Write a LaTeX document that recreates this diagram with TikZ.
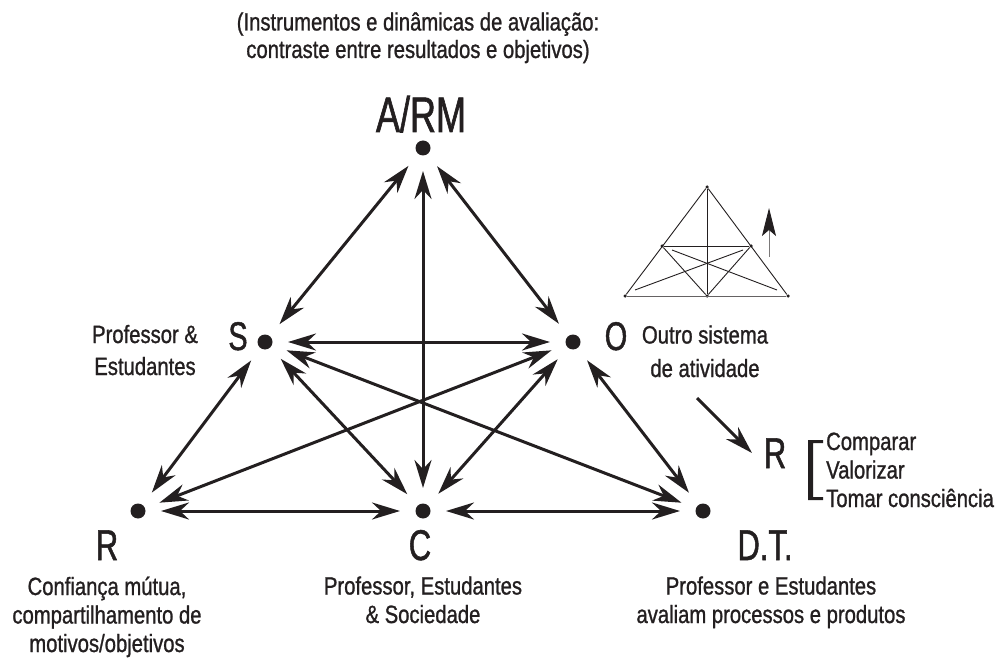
\documentclass[tikz,border=0pt]{standalone}
\usepackage{fontspec}
\setmainfont{Liberation Sans}
\newfontfamily\smallf[FakeStretch=0.81,FakeBold=1]{Liberation Sans}
\newfontfamily\bigf[FakeStretch=0.72,FakeBold=1.2]{Liberation Sans}
\usetikzlibrary{arrows.meta}
\definecolor{ink}{HTML}{231F20}
\begin{document}
\begin{tikzpicture}[x=1pt,y=-1pt,
  dot/.style={circle,fill=ink,minimum size=15pt,inner sep=0pt,outer sep=15.5pt},
  link/.style={line width=3pt,draw=ink,{Stealth[length=28pt,width=17pt,inset=9pt]}-{Stealth[length=28pt,width=17pt,inset=9pt]}},
  oneway/.style={line width=3pt,draw=ink,-{Stealth[length=28pt,width=17pt,inset=9pt]}},
  txt/.style={font=\smallf\fontsize{25}{29.5}\selectfont,text=ink,align=center,inner sep=0pt,anchor=base},
  big/.style={font=\bigf\fontsize{43}{43}\selectfont,text=ink,inner sep=0pt,anchor=base},
  mini/.style={circle,fill=ink,minimum size=3.5pt,inner sep=0pt},
  thin/.style={line width=0.9pt,draw=ink}]
\useasboundingbox (0,0) rectangle (999,663);

% main nodes
\node[dot] (A) at (423,148) {};
\node[dot] (S) at (265,342) {};
\node[dot] (O) at (573,342) {};
\node[dot] (R) at (138,511) {};
\node[dot] (C) at (423,511) {};
\node[dot] (D) at (703,511) {};

% labels (base anchor = baseline of last line)
\node[txt,font=\smallf\fontsize{25}{27.5}\selectfont] (top) at (418,58) {(Instrumentos e dinâmicas de avaliação:\\contraste entre resultados e objetivos)};
\node[big,font=\bigf\fontsize{50}{50}\selectfont] (Alab) at (421,132) {A/RM};
\node[big,font=\bigf\fontsize{40}{40}\selectfont] (Slab) at (238,350) {S};
\node[big,font=\bigf\fontsize{40}{40}\selectfont] (Olab) at (616,350) {O};
\node[big] (Rlab) at (107,560) {R};
\node[big] (Clab) at (420,560) {C};
\node[big] (Dlab) at (765,560) {D.T.};
\node[txt,font=\smallf\fontsize{25}{32}\selectfont] (Stxt) at (145,375) {Professor \&\\Estudantes};
\node[txt,font=\smallf\fontsize{25}{33.5}\selectfont] (Otxt) at (705,377) {Outro sistema\\de atividade};
\node[txt,font=\smallf\fontsize{25}{28.5}\selectfont] (Rtxt) at (107,652) {Confiança mútua,\\compartilhamento de\\motivos/objetivos};
\node[txt,font=\smallf\fontsize{25}{28.5}\selectfont] (Ctxt) at (423,623) {Professor, Estudantes\\\& Sociedade};
\node[txt,font=\smallf\fontsize{25}{28.5}\selectfont] (Dtxt) at (771,623) {Professor e Estudantes\\avaliam processos e produtos};

% connectors
\draw[link] (A) -- (S);
\draw[link] (A) -- (O);
\draw[link] (A) -- (C);
\draw[link] (S) -- (O);
\draw[link] (S) -- (R);
\draw[link] (S) -- (C);
\draw[link] (S) -- (D);
\draw[link] (O) -- (R);
\draw[link] (O) -- (C);
\draw[link] (O) -- (D);
\draw[link] (R) -- (C);
\draw[link] (C) -- (D);

% right side: R with list
\coordinate (rstart) at (697,398);
\coordinate (rend) at (752,453);
\draw[oneway] (rstart) -- (rend);
\node[big] (R2) at (775,468) {R};
\fill[ink] (808,440) -- (823,440) -- (823,443) -- (813,443) -- (813,497) -- (823,497) -- (823,500) -- (808,500) -- cycle;
\node[txt,align=left,anchor=base west,font=\smallf\fontsize{25}{28.5}\selectfont] (list) at (826,507) {Comparar\\Valorizar\\Tomar consciência};

% small icon
\node[mini] (t) at (707,187) {};
\node[mini] (ml) at (662,246) {};
\node[mini] (mr) at (751,246) {};
\node[mini] (bl) at (625,296) {};
\node[mini] (bm) at (707,296) {};
\node[mini] (br) at (788,296) {};
\coordinate (x1) at (672,250);
\coordinate (x2) at (777,290);
\coordinate (x3) at (743,250);
\coordinate (x4) at (635,290);
\draw[thin] (t) -- (bl);
\draw[thin] (t) -- (br);
\draw[thin,draw=ink!70] (bl) -- (br);
\draw[thin] (t) -- (bm);
\draw[thin] (ml) -- (mr);
\draw[thin] (ml) -- (bm);
\draw[thin] (mr) -- (bm);
\draw[thin] (x1) -- (x2);
\draw[thin] (x3) -- (x4);
\coordinate (ua) at (769,257);
\coordinate (ub) at (769,208);
\draw[line width=0.9pt,draw=ink!60,-{Stealth[length=28pt,width=14pt,inset=6pt,color=ink]}] (ua) -- (ub);
\end{tikzpicture}
\end{document}
